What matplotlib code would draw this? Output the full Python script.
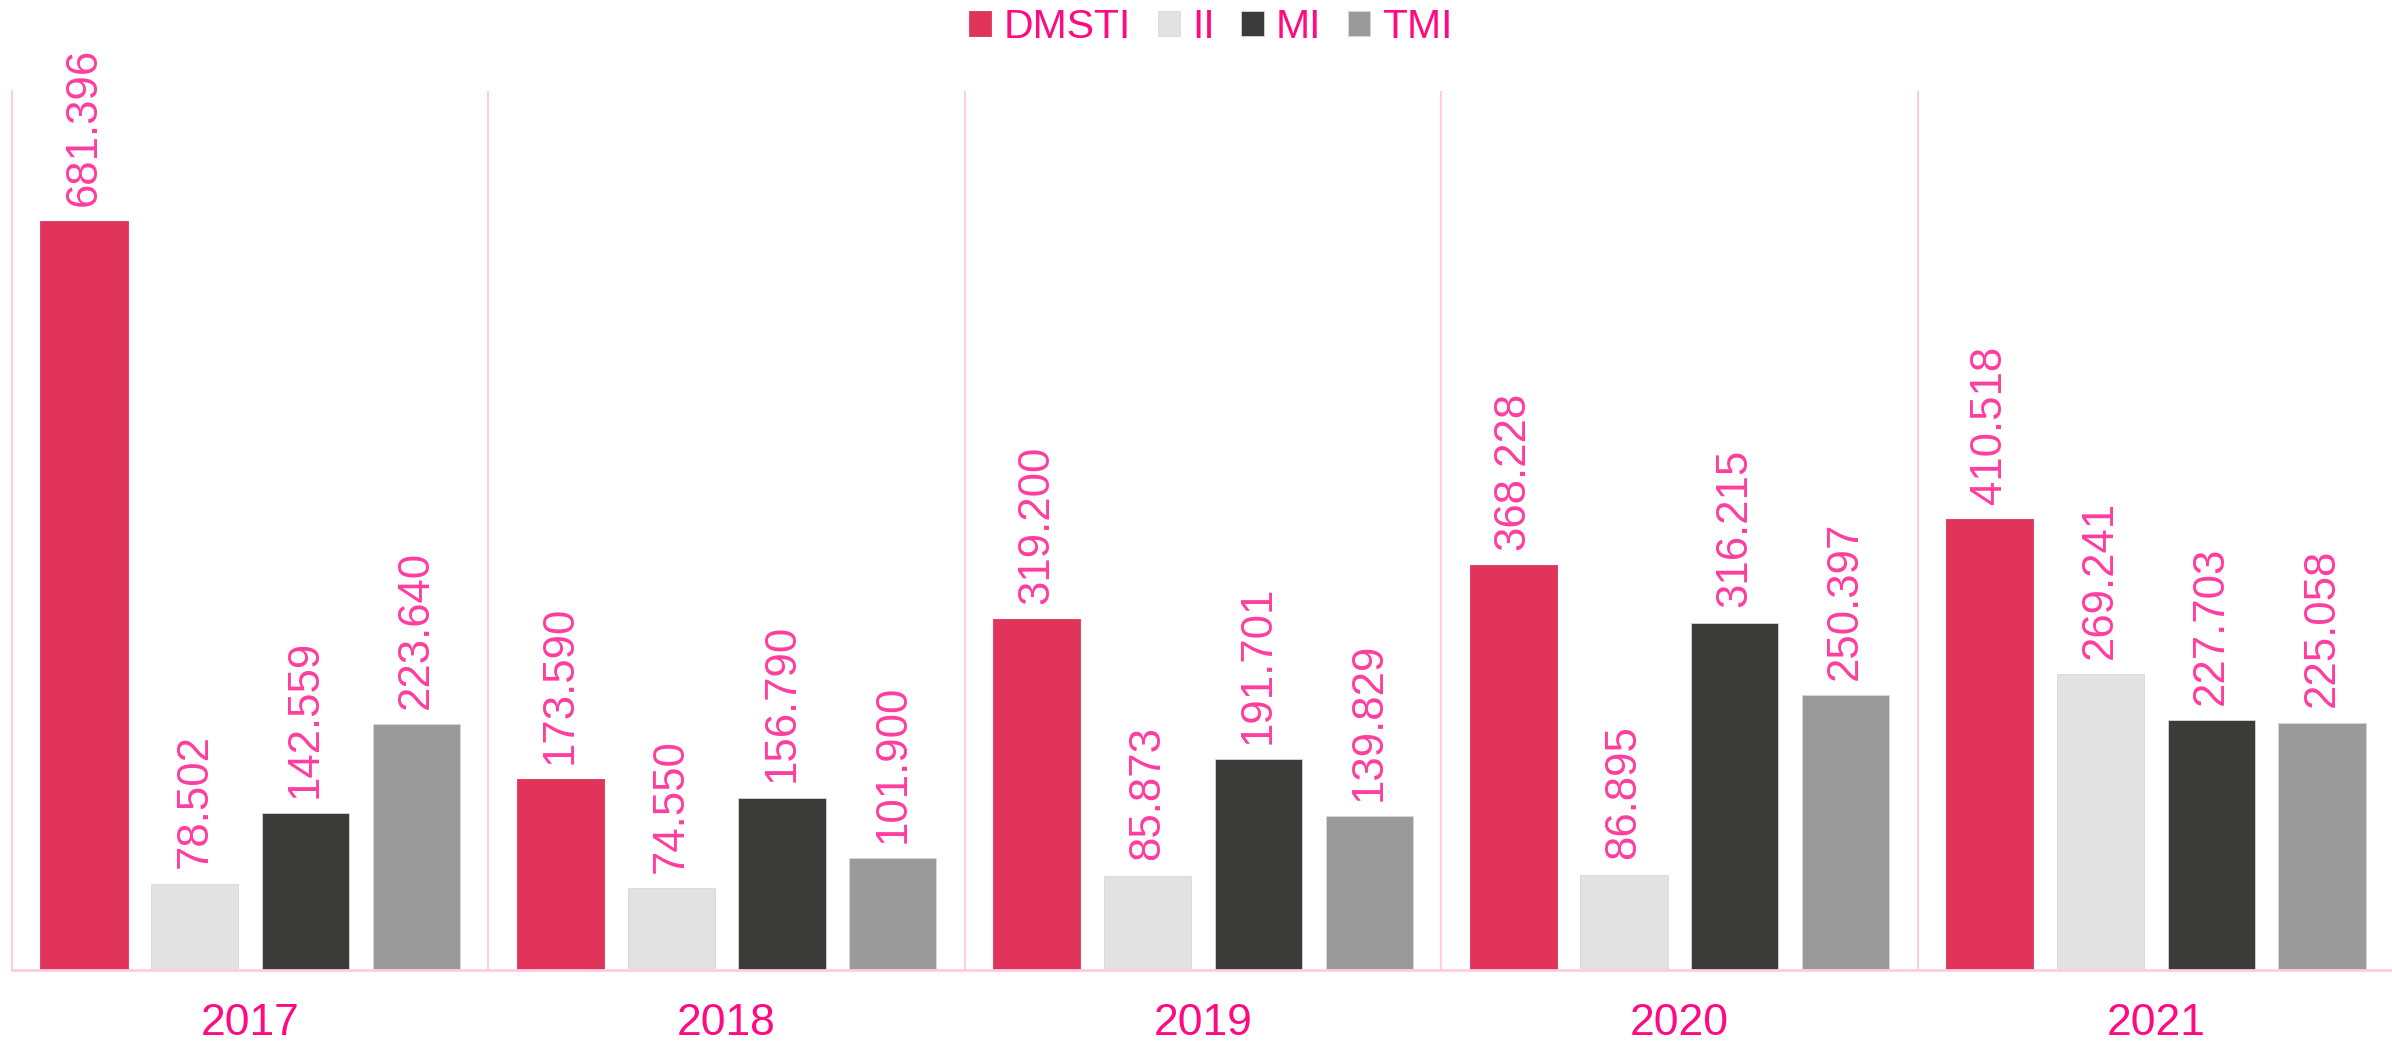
import matplotlib
matplotlib.use('Agg')
from matplotlib import pyplot as plt
import numpy as np

years = ['2017', '2018', '2019', '2020', '2021']
series = ['DMSTI', 'II', 'MI', 'TMI']
dmsti = [681.396, 173.590, 319.200, 368.228, 410.518]
ii = [78.502, 74.550, 85.873, 86.895, 269.241]
mi = [142.559, 156.790, 191.701, 316.215, 227.703]
tmi = [223.640, 101.900, 139.829, 250.397, 225.058]
values = [dmsti, ii, mi, tmi]
colors = ['#E0345A', '#E2E2E2', '#3B3B39', '#9A9A9A']

label_col = '#FF3D9E'
text_col = '#FF0A80'
grid_col = '#FFCCE2'

plt.rcParams['font.family'] = ['Liberation Sans', 'DejaVu Sans']

fig = plt.figure(figsize=(23.92, 10.41), dpi=100)
ax = fig.add_axes([12 / 2392, 71 / 1041, 2382 / 2392, 879 / 1041])

x = np.arange(len(years))
width = 0.183
step = 0.2326
for k, (name, vals) in enumerate(zip(series, values)):
    off = (k - 1.5) * step
    bars = ax.bar(x + off, vals, width, color=colors[k], label=name,
                  edgecolor='#d8d8d8' if k else colors[k], linewidth=0.6,
                  zorder=2)
    for b, v in zip(bars, vals):
        ax.annotate(f'{v:.3f}', (b.get_x() + b.get_width() / 2, v),
                    xytext=(0, 11), textcoords='offset points',
                    rotation=90, ha='center', va='bottom',
                    fontsize=31.5, color=label_col)

ax.set_xlim(-0.5, len(years) - 0.5)
ax.set_ylim(0, 800)

# group separators
for s in np.arange(0.5, len(years) - 0.5):
    ax.axvline(s, color=grid_col, lw=1.5, zorder=1)

for side in ['top', 'right']:
    ax.spines[side].set_visible(False)
ax.spines['left'].set_color(grid_col)
ax.spines['left'].set_linewidth(1.5)
ax.spines['bottom'].set_color(grid_col)
ax.spines['bottom'].set_linewidth(2)

ax.set_yticks([])
ax.set_xticks(x)
ax.set_xticklabels(years, fontsize=32, color=text_col)
ax.tick_params(axis='x', length=0, pad=24)

leg = fig.legend(loc='center', bbox_to_anchor=(1211 / 2392, 1 - 27 / 1041),
                 ncol=4, frameon=False, fontsize=29.5,
                 handlelength=0.54, handleheight=0.54, handletextpad=0.3,
                 columnspacing=0.65, borderpad=0)
for t in leg.get_texts():
    t.set_color(text_col)

fig.savefig('out.png', dpi=100)
